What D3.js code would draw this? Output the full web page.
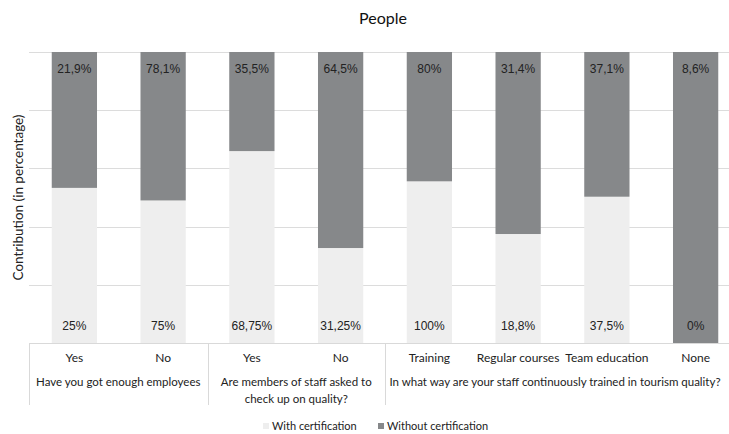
<!DOCTYPE html>
<html><head><meta charset="utf-8">
<script src="https://cdn.jsdelivr.net/npm/d3@7"></script>
<style>body{margin:0;background:#fff}svg{display:block}</style>
</head><body><svg id="c" width="729" height="434"></svg>
<script>
const categories = ["Yes","No","Yes","No","Training","Regular courses","Team education","None"];
const groups = [
  {lines:["Have you got enough employees"], from:0, to:1},
  {lines:["Are members of staff asked to","check up on quality?"], from:2, to:3},
  {lines:["In what way are your staff continuously trained in tourism quality?"], from:4, to:7}
];
const withCert = [25,75,68.75,31.25,100,18.8,37.5,0];
const withoutCert = [21.9,78.1,35.5,64.5,80,31.4,37.1,8.6];
const withLabels = ["25%","75%","68,75%","31,25%","100%","18,8%","37,5%","0%"];
const withoutLabels = ["21,9%","78,1%","35,5%","64,5%","80%","31,4%","37,1%","8,6%"];
const seriesNames = ["With certification","Without certification"];
const yTicks = [0,0.2,0.4,0.6,0.8,1];

(function(){
const colors = ["#eeeeee","#86888a"];
const svg = d3.select("#c");
const font = "Lato, 'Open Sans', sans-serif";
const pTop = 52, pBottom = 343, pLeft = 30, pRight = 740;

const rows = categories.map((c,i)=>({i, c, w:withCert[i], wo:withoutCert[i]}));
const stack = d3.stack().keys(["w","wo"]).offset(d3.stackOffsetExpand);
const series = stack(rows);

const x = d3.scaleBand().domain(d3.range(categories.length)).range([pLeft,pRight]).paddingInner(0.49).paddingOuter(0.245);
const y = d3.scaleLinear().domain([0,1]).range([pBottom,pTop]);

// gridlines
svg.append("g").selectAll("line").data(yTicks).join("line")
  .attr("x1",pLeft-1).attr("x2",729).attr("y1",d=>Math.round(y(d))+0.5).attr("y2",d=>Math.round(y(d))+0.5)
  .attr("stroke","#dcdcdc").attr("stroke-width",1);

// bars
svg.append("g").selectAll("g").data(series).join("g").attr("fill",(d,i)=>colors[i])
  .selectAll("rect").data(d=>d).join("rect")
  .attr("x",d=>x(d.data.i)).attr("width",x.bandwidth())
  .attr("y",d=>y(d[1])).attr("height",d=>y(d[0])-y(d[1]));

// value labels
const vl = svg.append("g").attr("font-family","'Liberation Sans', Arial, sans-serif").attr("font-size",12).attr("fill","#222").attr("text-anchor","middle");
vl.selectAll("text.b").data(withLabels).join("text").attr("class","b")
  .attr("x",(d,i)=>x(i)+x.bandwidth()/2).attr("y",pBottom-13).text(d=>d);
vl.selectAll("text.t").data(withoutLabels).join("text").attr("class","t")
  .attr("x",(d,i)=>x(i)+x.bandwidth()/2).attr("y",pTop+21).text(d=>d);

// axis lines
const ax = svg.append("g").attr("stroke","#d9d9d9").attr("stroke-width",1);
ax.append("line").attr("x1",pLeft-1).attr("x2",729).attr("y1",pBottom+0.5).attr("y2",pBottom+0.5);
const step = x.step();
const seps = [pLeft-1].concat(groups.slice(1).map(g=>x(g.from)-(step-x.bandwidth())/2));
ax.selectAll("line.s").data(seps).join("line").attr("class","s")
  .attr("x1",d=>Math.round(d)+0.5).attr("x2",d=>Math.round(d)+0.5).attr("y1",pBottom).attr("y2",405);

// category labels
const cl = svg.append("g").attr("font-family",font).attr("font-size",12).attr("fill","#222").attr("text-anchor","middle");
cl.selectAll("text").data(categories).join("text")
  .attr("x",(d,i)=>x(i)+x.bandwidth()/2).attr("y",362).text(d=>d);

// group labels, centred between the separators (last one up to the visible edge)
const gl = svg.append("g").attr("font-family",font).attr("font-size",11.5).attr("fill","#222").attr("text-anchor","middle");
const bounds = seps.concat([725]);
groups.forEach((g,gi)=>{
  const cx = (bounds[gi]+bounds[gi+1])/2;
  const t = gl.append("text").attr("x",cx).attr("y",386);
  g.lines.forEach((ln,k)=>t.append("tspan").attr("x",cx).attr("dy",k?17:0).text(ln));
});

// title
svg.append("text").attr("x",383).attr("y",24).attr("text-anchor","middle")
  .attr("font-family",font).attr("font-size",16).attr("fill","#111").text("People");

// y title
svg.append("text").attr("transform",`translate(23,${(pTop+pBottom)/2}) rotate(-90)`)
  .attr("text-anchor","middle").attr("font-family",font).attr("font-size",13.5).attr("fill","#222")
  .text("Contribution (in percentage)");

// legend
const legX = [263,378];
const lg = svg.append("g").attr("font-family",font).attr("font-size",11).attr("fill","#222");
seriesNames.forEach((n,i)=>{
  lg.append("rect").attr("x",legX[i]).attr("y",423).attr("width",6).attr("height",6).attr("fill",colors[i]);
  lg.append("text").attr("x",legX[i]+9).attr("y",430).text(n);
});
})();
</script></body></html>
